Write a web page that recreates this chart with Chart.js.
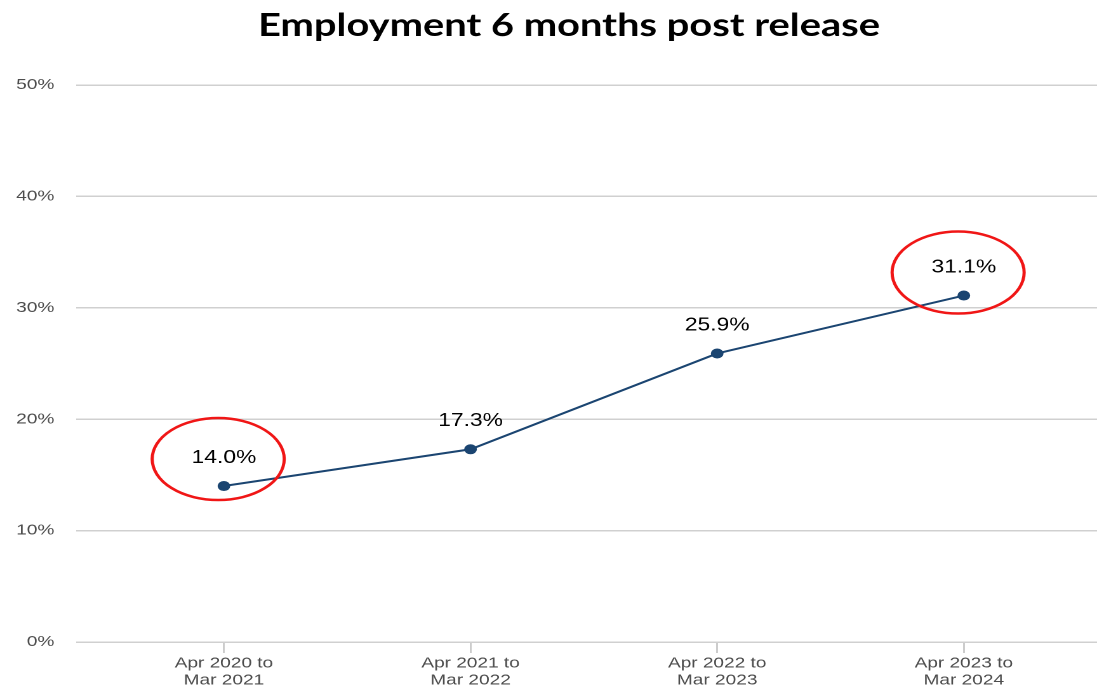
<!DOCTYPE html>
<html>
<head>
<meta charset="utf-8">
<script src="https://cdn.jsdelivr.net/npm/chart.js@4/dist/chart.umd.min.js"></script>
<style>
  html, body { margin: 0; padding: 0; background: #fff; overflow: hidden; }
  #chart { display: block; width: 1097px; height: 691px; }
</style>
</head>
<body>
<canvas id="chart" width="864" height="691" style="width:1097px;height:691px"></canvas>
<script>
const titleText = 'Employment 6 months post release';
const categories = [
  ['Apr 2020 to', 'Mar 2021'],
  ['Apr 2021 to', 'Mar 2022'],
  ['Apr 2022 to', 'Mar 2023'],
  ['Apr 2023 to', 'Mar 2024']
];
const employmentRate = [14.0, 17.3, 25.9, 31.1];
const yTicks = [0, 10, 20, 30, 40, 50];
const circled = [0, 3]; // points with a red ring round them

// the source picture is stretched sideways, so the canvas is drawn narrow and widened by css
const stretch = 1097 / 864;

// value labels above each point
const valueLabels = {
  id: 'valueLabels',
  afterDatasetsDraw(chart) {
    const ctx = chart.ctx;
    const meta = chart.getDatasetMeta(0);
    ctx.save();
    ctx.font = '18px "Liberation Sans", Arial, sans-serif';
    ctx.fillStyle = '#000';
    ctx.textAlign = 'center';
    ctx.textBaseline = 'middle';
    meta.data.forEach((pt, i) => {
      ctx.fillText(employmentRate[i].toFixed(1) + '%', pt.x, pt.y - 28);
    });
    ctx.restore();
  }
};

// red rings round the first and last values
const rings = {
  id: 'rings',
  afterDraw(chart) {
    const ctx = chart.ctx;
    const meta = chart.getDatasetMeta(0);
    ctx.save();
    ctx.strokeStyle = '#f01616';
    ctx.lineWidth = 2.5;
    circled.forEach((i, k) => {
      const pt = meta.data[i];
      const dy = k === 0 ? -27 : -23;
      ctx.beginPath();
      ctx.ellipse(pt.x - 4.5, pt.y + dy, 52, 41, 0, 0, Math.PI * 2);
      ctx.stroke();
    });
    ctx.restore();
  }
};

// title drawn narrow so it is not widened with the rest
const titleDraw = {
  id: 'titleDraw',
  afterDraw(chart) {
    const ctx = chart.ctx;
    ctx.save();
    ctx.font = 'bold 32px Lato, "Open Sans", sans-serif';
    ctx.fillStyle = '#000';
    ctx.textBaseline = 'alphabetic';
    ctx.textAlign = 'center';
    const w = ctx.measureText(titleText).width;
    const target = 622 / stretch;
    ctx.translate(569 / stretch, 36);
    ctx.scale(target / w, 1);
    ctx.fillText(titleText, 0, 0);
    ctx.restore();
  }
};

new Chart(document.getElementById('chart'), {
  type: 'line',
  data: {
    datasets: [{
      data: employmentRate.map((v, i) => ({ x: i, y: v })),
      borderColor: '#1b4571',
      backgroundColor: '#1b4571',
      borderWidth: 2,
      pointRadius: 4,
      pointHoverRadius: 4,
      tension: 0
    }]
  },
  options: {
    responsive: false,
    animation: false,
    devicePixelRatio: 2,
    layout: { autoPadding: false, padding: { top: 85, right: 0, bottom: 0, left: 0 } },
    plugins: {
      legend: { display: false },
      title: { display: false },
      tooltip: { enabled: false }
    },
    scales: {
      x: {
        type: 'linear',
        min: -0.6,
        max: 3.54,
        afterBuildTicks: scale => { scale.ticks = categories.map((c, i) => ({ value: i })); },
        afterFit: scale => {
          scale.height = 49;
          scale.paddingLeft = 0;
          scale.paddingRight = 0;
        },
        border: { display: false },
        grid: {
          drawOnChartArea: false,
          drawTicks: true,
          tickLength: 11,
          color: '#cccccc',
          lineWidth: 1.5
        },
        ticks: {
          padding: 2,
          maxRotation: 0,
          autoSkip: false,
          color: '#4d4d4d',
          font: { family: '"Liberation Sans", Arial, sans-serif', size: 15, lineHeight: 1.13 },
          callback: v => categories[v]
        }
      },
      y: {
        min: 0,
        max: 50,
        afterBuildTicks: scale => { scale.ticks = yTicks.map(v => ({ value: v })); },
        afterFit: scale => { scale.width = 59.8; },
        border: { display: false },
        grid: {
          drawTicks: false,
          color: '#d0d0d0',
          lineWidth: 1.5
        },
        ticks: {
          padding: 17,
          color: '#4d4d4d',
          font: { family: '"Liberation Sans", Arial, sans-serif', size: 15 },
          callback: v => v + '%'
        }
      }
    }
  },
  plugins: [valueLabels, rings, titleDraw]
});
</script>
</body>
</html>
